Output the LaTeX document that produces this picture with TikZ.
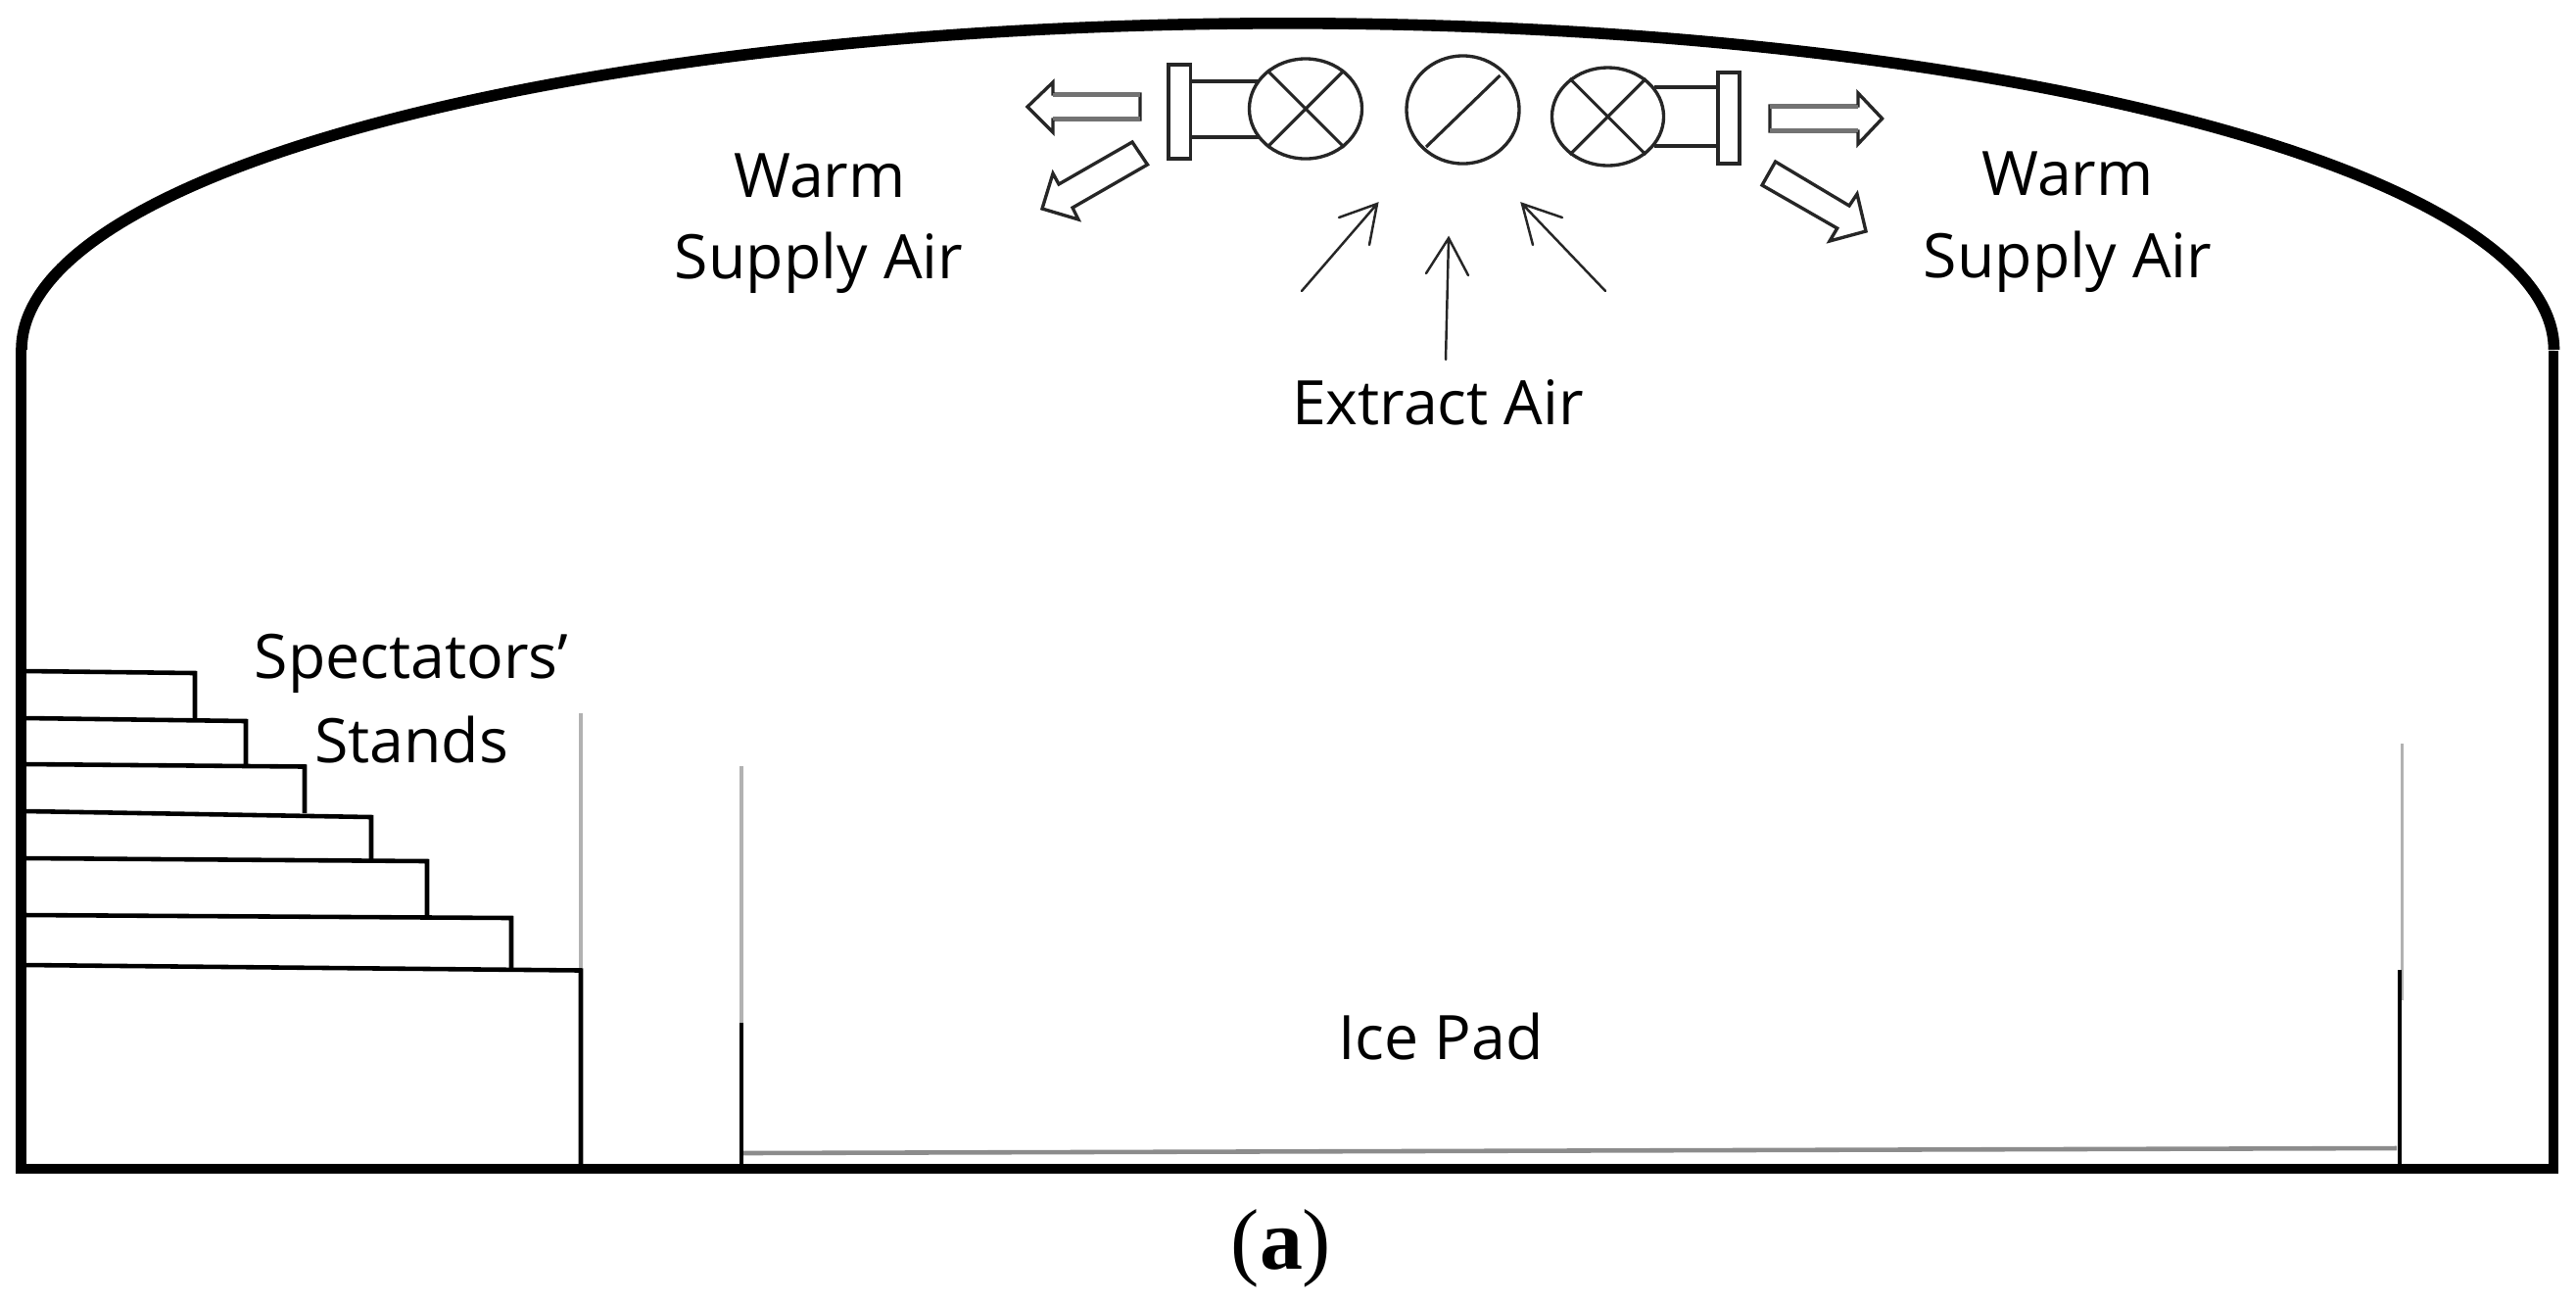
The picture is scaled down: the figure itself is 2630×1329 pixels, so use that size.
\documentclass[tikz,border=0pt]{standalone}
\usepackage{fontspec}
\usetikzlibrary{shapes.geometric}
\setmainfont{Open Sans}
\newfontfamily\capfont{Liberation Serif}
\tikzset{
  x=0.01cm,y=-0.01cm,
  heavy/.style={draw=black,line width=2.9pt,line cap=butt},
  tread/.style={draw=black,line width=1.3pt,line cap=butt,line join=miter},
  ghost/.style={draw=black!30,line width=1pt},
  outl/.style={draw=black!85,line width=0.95pt,line join=miter,fill=white},
  shaftline/.style={draw=black!55,line width=1.3pt},
  thin arrow/.style={draw=black!85,line width=0.7pt,line cap=round,line join=miter},
  label/.style={font=\fontsize{17.8}{22}\selectfont,inner sep=0pt,anchor=base,text=black},
}
\begin{document}
\begin{tikzpicture}
\useasboundingbox[fill=white] (0,0) rectangle (2630,1329);
% envelope
\draw[heavy,line width=3.3pt] (22,357) arc[start angle=180,end angle=0,x radius=12.92cm,y radius=3.33cm];
\draw[heavy] (21.5,357) -- (21.5,1193) -- (2607,1193) -- (2607,358);
% barriers behind
\draw[ghost] (593,728) -- (593,990);
\draw[ghost] (757,782) -- (757,1044);
\draw[ghost] (2452.5,759) -- (2452.5,1021);
\draw[ghost,line width=1.3pt,draw=black!45] (757,1177) -- (2447,1172);
\draw[tread] (757,1044) -- (757,1190);
\draw[tread] (2450,990) -- (2450,1190);
% stands
\draw[tread] (26,685) -- (199,687) -- (199,734);
\draw[tread] (26,733) -- (251,736) -- (251,780);
\draw[tread] (26,780) -- (311,782.5) -- (311,830);
\draw[tread] (26,828) -- (379,834) -- (379,877);
\draw[tread] (26,876) -- (436,879) -- (436,934);
\draw[tread] (26,934) -- (522,937) -- (522,989);
\draw[tread] (26,985) -- (593,990.5) -- (593,1190);
% units
\draw[outl,line width=1.1pt] (1215,83) -- (1286,83) (1215,140) -- (1286,140);
\draw[outl] (1193,66) rectangle (1215.5,162);
\node[outl,ellipse,minimum width=1.15cm,minimum height=1.02cm,inner sep=0pt] (fanL) at (1333,111) {};
\draw[thin arrow,line width=0.9pt,line cap=butt] (fanL.45) -- (fanL.225) (fanL.135) -- (fanL.315);
\node[outl,ellipse,minimum width=1.15cm,minimum height=1.10cm,inner sep=0pt] (fanC) at (1493.5,112) {};
\draw[thin arrow,line width=0.9pt,line cap=butt] (1531.5,77) -- (1456,150);
\draw[outl,line width=1.1pt] (1689,89) -- (1754,89) (1689,149) -- (1754,149);
\node[outl,ellipse,minimum width=1.14cm,minimum height=1.00cm,inner sep=0pt] (fanR) at (1641.5,119) {};
\draw[thin arrow,line width=0.9pt,line cap=butt] (fanR.45) -- (fanR.225) (fanR.135) -- (fanR.315);
\draw[outl] (1754,74) rectangle (1776,167);
% supply block arrows
\draw[outl] (1049,109) -- (1075,84) -- (1075,96) -- (1164,96) -- (1164,122) -- (1075,122) -- (1075,135) -- cycle;
\draw[shaftline] (1075,97) -- (1164,97) (1075,121) -- (1164,121);
\draw[outl] (1156,145) -- (1171.5,168) -- (1095,212) -- (1101,224) -- (1064,213) -- (1075,177) -- (1081,188) -- cycle;
\draw[outl] (1921.6,121) -- (1897,95) -- (1897,108) -- (1807,108) -- (1807,134) -- (1897,134) -- (1897,147) -- cycle;
\draw[shaftline] (1807,109) -- (1897,109) (1807,133) -- (1897,133);
\draw[outl] (1812.6,165) -- (1799,189) -- (1875.7,233) -- (1868,246) -- (1905,236) -- (1896,198) -- (1888,210) -- cycle;
% extract arrows
\coordinate (eA) at (1329,297); \coordinate (eAt) at (1406,208);
\coordinate (eB) at (1476,367); \coordinate (eBt) at (1479,243);
\coordinate (eC) at (1639,297); \coordinate (eCt) at (1554,208);
\draw[thin arrow] (eA) -- (eAt) (1367,222) -- (eAt) -- (1398,250);
\draw[thin arrow] (eB) -- (eBt) (1456,279) -- (eBt) -- (1499,281);
\draw[thin arrow] (eC) -- (eCt) (1595,222) -- (eCt) -- (1565,250);
% labels
\node[label] (warmL) at (837,201) {Warm};
\node[label] (supplyL) at (836,284) {Supply Air};
\node[label] (warmR) at (2111,199) {Warm};
\node[label] (supplyR) at (2111,283) {Supply Air};
\node[label] (extract) at (1468,433) {Extract Air};
\node[label] (spect) at (420,692) {Spectators’};
\node[label] (stands) at (420,778) {Stands};
\node[label] (ice) at (1471,1081) {Ice Pad};
\node[font=\capfont\fontsize{25}{30}\selectfont,inner sep=0pt,anchor=base] (cap) at (1308,1295) {(\textbf{a})};
\end{tikzpicture}
\end{document}
